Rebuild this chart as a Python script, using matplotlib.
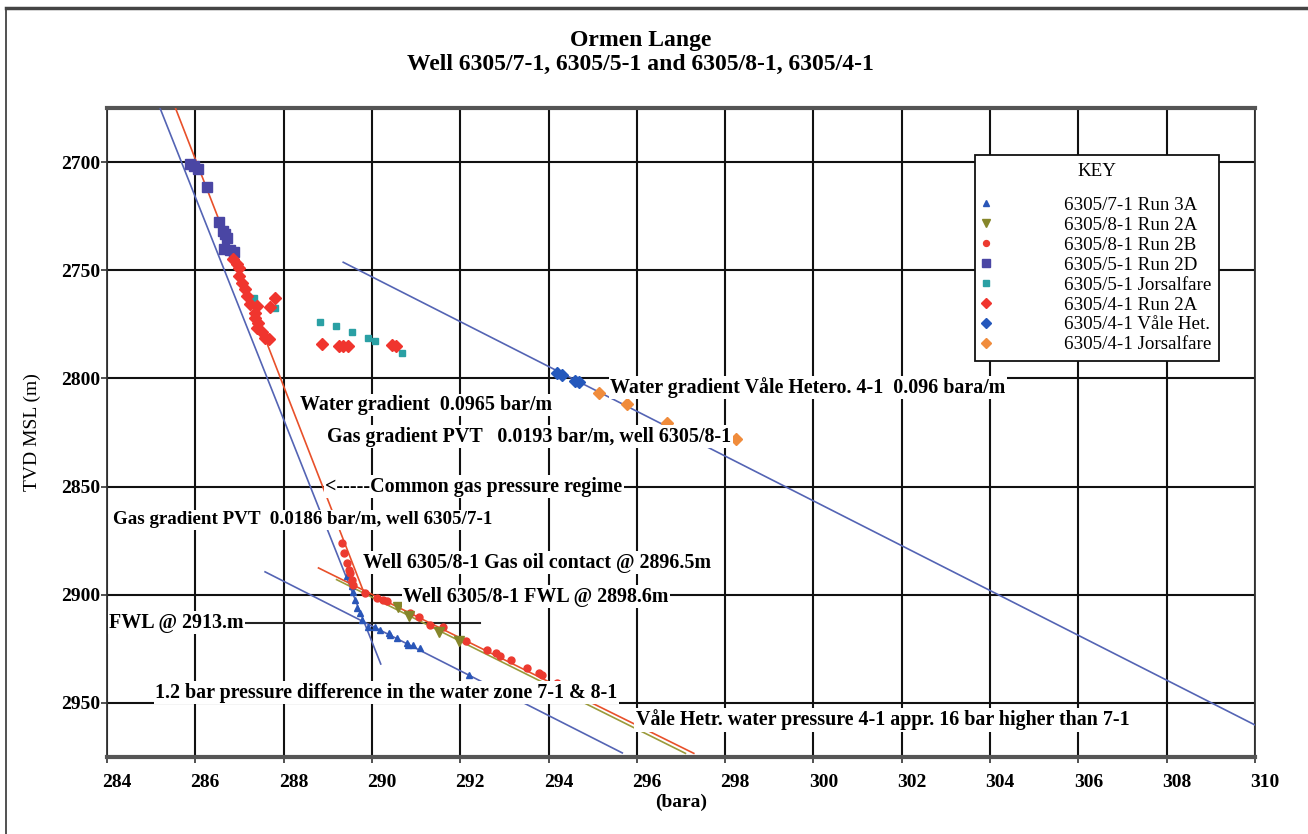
import matplotlib.pyplot as plt
import matplotlib.transforms as mtransforms
from matplotlib.lines import Line2D

plt.rcParams['font.family'] = ['Liberation Serif', 'DejaVu Serif']

# ---- measured points (pressure bara, depth m TVD MSL) ----
run3a_71_p = [289.43, 289.55, 289.58, 289.62, 289.66, 289.73, 289.77, 289.92, 290.08,
              290.19, 290.38, 290.41, 290.57, 290.79, 290.82, 290.94, 291.10, 292.19]
run3a_71_d = [2891.5, 2896.1, 2898.5, 2902.3, 2906.2, 2908.5, 2911.6, 2914.7, 2915.0,
              2916.2, 2917.7, 2918.5, 2920.0, 2922.4, 2923.0, 2923.1, 2924.7, 2937.0]

run2a_81_p = [290.60, 290.83, 291.51, 291.98]
run2a_81_d = [2905.5, 2910.0, 2917.3, 2921.6]

run2b_81_p = [289.32, 289.36, 289.43, 289.47, 289.51, 289.55, 289.58, 289.85, 290.11,
              290.26, 290.34, 290.87, 291.06, 291.32, 291.62, 292.12, 292.61, 292.80,
              292.91, 293.14, 293.51, 293.78, 293.85, 294.19, 294.38, 294.72, 294.87]
run2b_81_d = [2876.0, 2880.7, 2885.3, 2888.4, 2890.0, 2893.0, 2895.4, 2899.2, 2901.5,
              2902.3, 2903.1, 2908.2, 2910.3, 2913.9, 2915.0, 2921.6, 2925.3, 2927.0,
              2928.5, 2930.0, 2933.9, 2936.3, 2937.0, 2940.9, 2943.2, 2946.3, 2947.8]

run2d_51_p = [285.88, 285.96, 286.07, 286.27, 286.54, 286.62, 286.67, 286.71, 286.65,
              286.79, 286.88]
run2d_51_d = [2701.0, 2701.7, 2703.2, 2711.4, 2727.6, 2731.8, 2733.3, 2734.9, 2740.0,
              2740.8, 2741.6]

jors_51_p = [287.32, 287.81, 288.83, 289.19, 289.55, 289.92, 290.08, 290.68]
jors_51_d = [2762.6, 2767.6, 2773.8, 2775.8, 2778.6, 2781.5, 2782.7, 2788.1]

run2a_41_p = [286.86, 286.95, 287.00, 286.98, 287.05, 287.13, 287.17, 287.24, 287.39,
              287.35, 287.35, 287.43, 287.39, 287.51, 287.58, 287.66, 287.81, 287.69,
              288.87, 289.25, 289.35, 289.45, 290.45, 290.55]
run2a_41_d = [2744.9, 2747.2, 2748.8, 2752.6, 2755.7, 2758.8, 2761.9, 2765.7, 2766.5,
              2769.6, 2771.9, 2774.2, 2776.5, 2778.6, 2781.2, 2781.9, 2762.6, 2766.8,
              2783.9, 2785.0, 2785.0, 2785.0, 2784.5, 2785.2]

vale_41_p = [294.20, 294.30, 294.60, 294.70]
vale_41_d = [2797.3, 2798.3, 2801.0, 2801.8]

jors_41_p = [295.14, 295.78, 296.69, 298.24]
jors_41_d = [2806.6, 2812.0, 2820.5, 2828.2]

# ---- gradient lines ----
gas_71_p = [285.20, 290.20]
gas_71_d = [2675.0, 2932.0]
gas_81_p = [285.55, 289.80]
gas_81_d = [2675.0, 2898.0]
water_71_p = [287.58, 295.67]
water_71_d = [2889.4, 2973.1]
oil_81_p = [288.79, 297.29]
oil_81_d = [2887.6, 2973.3]
water_81_p = [289.20, 297.10]
water_81_d = [2893.0, 2973.3]
water_vale_p = [289.35, 310.0]
water_vale_d = [2746.3, 2960.2]
fwl_p = [284.0, 292.45]
fwl_d = [2913.0, 2913.0]

fig = plt.figure(figsize=(13.08, 8.34), dpi=100)
ax = fig.add_axes([0.0818, 0.0923, 0.8777, 0.7782])

# frame around picture
fig.add_artist(Line2D([0.0045, 0.0045], [0, 0.99], transform=fig.transFigure, color='#333333', lw=1.2))
fig.add_artist(Line2D([0.0045, 1], [0.99, 0.99], transform=fig.transFigure, color='#444444', lw=2.5))

blue_line = '#5464b4'
red_line = '#e8502a'
olive_line = '#9a9a3a'
ax.plot(gas_71_p, gas_71_d, color=blue_line, lw=1.2, zorder=3)
ax.plot(gas_81_p, gas_81_d, color=red_line, lw=1.2, zorder=3)
ax.plot(water_71_p, water_71_d, color=blue_line, lw=1.2, zorder=3)
ax.plot(oil_81_p, oil_81_d, color=red_line, lw=1.2, zorder=3)
ax.plot(water_81_p, water_81_d, color=olive_line, lw=1.2, zorder=3)
ax.plot(water_vale_p, water_vale_d, color=blue_line, lw=1.2, zorder=3)
ax.plot(fwl_p, fwl_d, color='#222222', lw=1.5, zorder=2)

ax.plot(run3a_71_p, run3a_71_d, ls='none', marker='^', ms=5, color='#2a56b8', label='6305/7-1 Run 3A', zorder=4)
ax.plot(run2a_81_p, run2a_81_d, ls='none', marker='v', ms=7, color='#86862a', label='6305/8-1 Run 2A', zorder=5)
ax.plot(run2b_81_p, run2b_81_d, ls='none', marker='o', ms=5, color='#ec3a30', label='6305/8-1 Run 2B', zorder=4)
ax.plot(run2d_51_p, run2d_51_d, ls='none', marker='s', ms=7, color='#4a46a4', label='6305/5-1 Run 2D', zorder=4)
ax.plot(jors_51_p, jors_51_d, ls='none', marker='s', ms=4.5, color='#2aa0a4', label='6305/5-1 Jorsalfare', zorder=4)
ax.plot(run2a_41_p, run2a_41_d, ls='none', marker='D', ms=6.5, color='#f0352e', label='6305/4-1 Run 2A', zorder=4)
ax.plot(vale_41_p, vale_41_d, ls='none', marker='D', ms=6.5, color='#2458bc', label='6305/4-1 Våle Het.', zorder=4)
ax.plot(jors_41_p, jors_41_d, ls='none', marker='D', ms=6, color='#f08c3c', label='6305/4-1 Jorsalfare', zorder=4)

ax.set_xlim(284, 310)
ax.set_ylim(2975, 2675)
ax.set_xticks(range(284, 311, 2))
ax.set_yticks([2700, 2750, 2800, 2850, 2900, 2950])
ax.grid(True, color='#111111', lw=1.5, zorder=1)
ax.set_axisbelow(True)
ax.tick_params(axis='both', labelsize=14, length=4, width=1.2, color='#333333')
ax.tick_params(axis='x', pad=8)
ax.tick_params(axis='y', pad=1)
for lbl in ax.get_xticklabels() + ax.get_yticklabels():
    lbl.set_fontweight('bold')
offset = mtransforms.ScaledTranslation(0.10, 0, fig.dpi_scale_trans)
for lbl in ax.xaxis.get_majorticklabels():
    lbl.set_transform(lbl.get_transform() + offset)
for side in ['top', 'bottom']:
    ax.spines[side].set_linewidth(3)
    ax.spines[side].set_color('#555555')
for side in ['left', 'right']:
    ax.spines[side].set_linewidth(1.3)
    ax.spines[side].set_color('#333333')

ax.set_xlabel('(bara)', fontsize=14, fontweight='bold', labelpad=2)
ax.set_ylabel('TVD MSL (m)', fontsize=14, labelpad=14)

fig.text(0.49, 0.952, 'Ormen Lange', ha='center', va='center', fontsize=17, fontweight='bold')
fig.text(0.49, 0.923, 'Well 6305/7-1, 6305/5-1 and 6305/8-1, 6305/4-1', ha='center', va='center',
         fontsize=17, fontweight='bold')

box = dict(facecolor='white', edgecolor='none', pad=1.0)
notes = [
    (295.4, 2804.2, 'Water gradient Våle Hetero. 4-1  0.096 bara/m', 14.4),
    (288.37, 2812.3, 'Water gradient  0.0965 bar/m', 14.4),
    (288.99, 2827.0, 'Gas gradient PVT   0.0193 bar/m, well 6305/8-1', 14.4),
    (288.94, 2850.0, '<-----Common gas pressure regime', 14.4),
    (284.14, 2865.3, 'Gas gradient PVT  0.0186 bar/m, well 6305/7-1', 13.7),
    (289.8, 2885.2, 'Well 6305/8-1 Gas oil contact @ 2896.5m', 14.4),
    (290.71, 2900.9, 'Well 6305/8-1 FWL @ 2898.6m', 14.4),
    (284.05, 2913.0, 'FWL @ 2913.m', 14.4),
    (285.09, 2945.3, '1.2 bar pressure difference in the water zone 7-1 & 8-1', 14.4),
    (295.97, 2957.9, 'Våle Hetr. water pressure 4-1 appr. 16 bar higher than 7-1', 14.4),
]
for px, dy, s, fs in notes:
    ax.text(px, dy, s, ha='left', va='center', fontsize=fs, fontweight='bold', bbox=box, zorder=6)

leg = ax.legend(loc='upper left', bbox_to_anchor=(0.756, 0.9276), title='KEY', fontsize=13.7,
                title_fontsize=13.7, frameon=True, fancybox=False, edgecolor='#111111',
                labelspacing=0.14, handletextpad=3.9, handlelength=0.4, borderpad=0.4,
                borderaxespad=0, markerscale=0.85, framealpha=1)
leg.get_frame().set_linewidth(1.3)
leg._legend_box.sep = 12
leg.set_zorder(7)

plt.savefig('out.png', dpi=100)
plt.close()
